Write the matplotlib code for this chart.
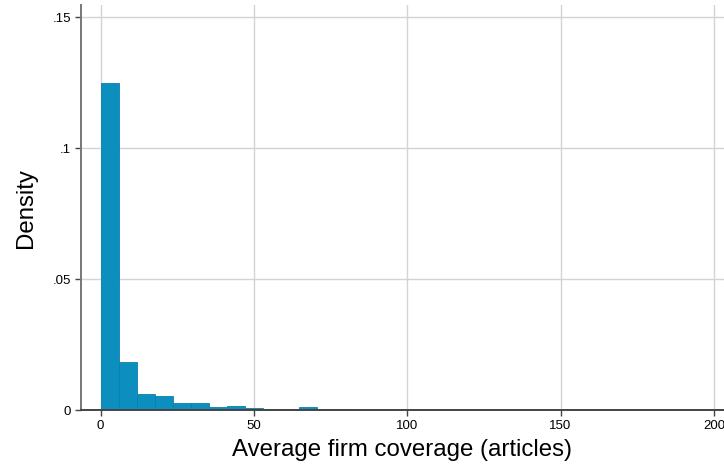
import numpy as np
import matplotlib
matplotlib.use("Agg")
import matplotlib.pyplot as plt

plt.rcParams['font.family'] = ['Liberation Sans', 'DejaVu Sans']

# histogram of average firm coverage, 30 bins starting at 0
bin_width = 5.87
density = [0.1248, 0.0183, 0.0061, 0.0053, 0.0027, 0.0027, 0.0013, 0.0016,
           0.0009, 0.0006, 0.0006, 0.0011, 0.0004, 0.0004, 0.0002, 0.0002,
           0.0002, 0.0003, 0.0001, 0.0003, 0.0001, 0.0001, 0.0, 0.0,
           0.0, 0.0001, 0.0001, 0.0, 0.0, 0.0001]
x_ticks = [0, 50, 100, 150, 200]
y_ticks = [0, 0.05, 0.1, 0.15]
y_ticklabels = ['0', '.05', '.1', '.15']

fig = plt.figure(figsize=(7.24, 4.66), dpi=100)
ax = fig.add_axes([0.1115, 0.1195, 0.8885, 0.8698])

lefts = np.arange(len(density)) * bin_width
ax.bar(lefts, density, width=bin_width, align='edge', color='#0c8fbe',
       edgecolor='#0a80ad', linewidth=0.6, zorder=2)

ax.set_xlim(-6.5, 203.3)
ax.set_ylim(0, 0.1547)
ax.set_xticks(x_ticks)
ax.set_yticks(y_ticks)
ax.set_yticklabels(y_ticklabels)

ax.grid(True, color='#d3d3d3', linewidth=1.0, zorder=0)
ax.set_axisbelow(True)
for s in ['top', 'right']:
    ax.spines[s].set_visible(False)
ax.spines['left'].set_color('#777777')
ax.spines['left'].set_linewidth(1.4)
ax.spines['bottom'].set_color('#444444')
ax.spines['bottom'].set_linewidth(1.4)
ax.tick_params(axis='both', direction='out', length=4, width=1,
               color='#444444', labelsize=9.5, pad=3)

ax.set_xlabel('Average firm coverage (articles)', fontsize=17.3, labelpad=5)
ax.set_ylabel('Density', fontsize=17.3, labelpad=11)

fig.savefig('out.png', dpi=100, facecolor='white')
